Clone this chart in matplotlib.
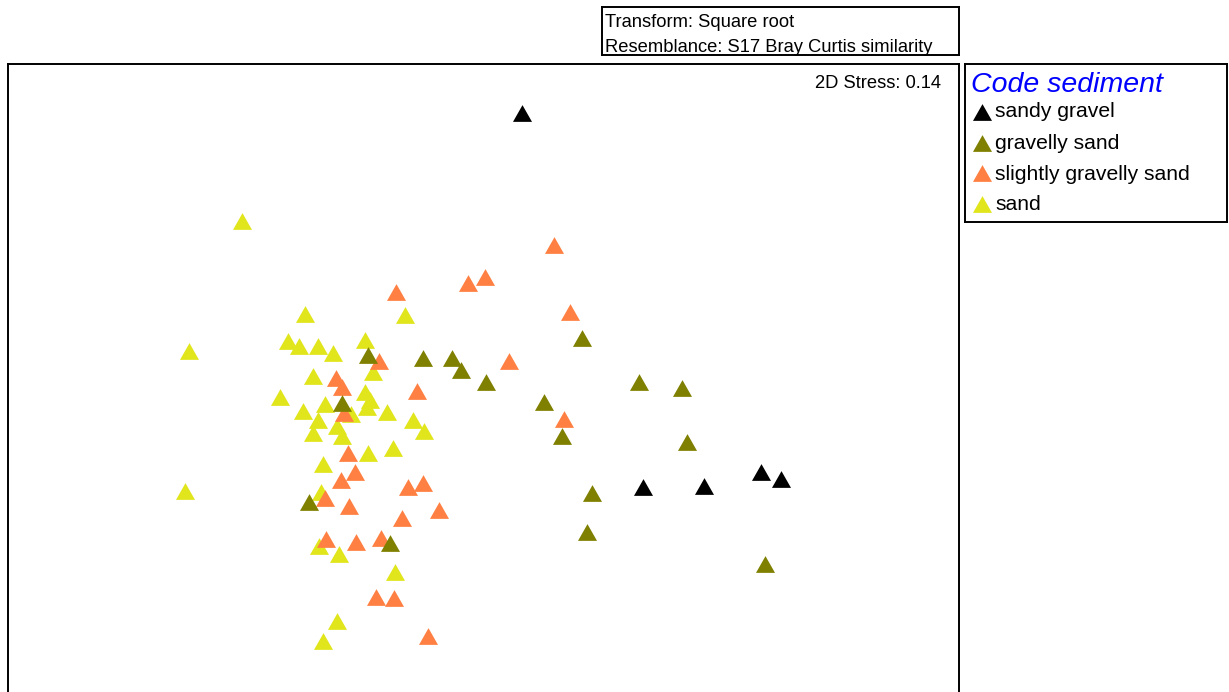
import matplotlib
matplotlib.use("Agg")
import matplotlib.pyplot as plt
from matplotlib.markers import MarkerStyle
from matplotlib.transforms import Affine2D

plt.rcParams['font.family'] = ['Liberation Sans', 'DejaVu Sans']

# NMDS ordination coordinates (MDS1, MDS2) grouped by sediment code
sandy_gravel_x = [0.42, 1.63, 2.24, 2.81, 3.01]
sandy_gravel_y = [2.87, -0.87, -0.86, -0.72, -0.79]

gravelly_sand_x = [1.02, -0.57, -0.28, -0.19, 0.06, 0.64, 0.82, 1.59, 2.02,
                   2.07, 1.12, 1.07, 2.85, -1.12, -1.38, -1.71, -0.90]
gravelly_sand_y = [0.62, 0.42, 0.42, 0.30, 0.18, -0.02, -0.36, 0.18, 0.12,
                   -0.42, -0.93, -1.32, -1.64, 0.45, -0.03, -1.02, -1.43]

slightly_gravelly_sand_x = [0.74, -0.12, 0.05, 0.90, 0.29, 0.84, -0.41, -0.57, -0.84,
                            -1.01, -0.63, -1.44, -1.38, -1.36, -1.32, -1.25, -1.39,
                            -0.72, -1.55, -1.31, -0.78, -1.54, -1.24, -0.99, -1.04,
                            -0.86, -0.52]
slightly_gravelly_sand_y = [1.55, 1.17, 1.23, 0.88, 0.39, -0.19, -1.10, -0.83, 1.08,
                            0.39, 0.09, 0.22, 0.13, -0.13, -0.53, -0.72, -0.80,
                            -0.87, -0.98, -1.06, -1.18, -1.39, -1.42, -1.38, -1.97,
                            -1.98, -2.36]

sand_x = [-2.38, -2.91, -2.95, -1.75, -0.75, -1.92, -1.81, -1.62, -1.47, -1.15,
          -1.07, -1.67, -2.00, -1.15, -1.10, -1.13, -1.55, -1.77, -1.29, -0.93,
          -0.67, -0.56, -1.62, -1.43, -1.67, -1.38, -1.12, -0.87, -1.57, -1.59,
          -1.61, -1.41, -0.85, -1.43, -1.57]
sand_y = [1.79, 0.49, -0.91, 0.86, 0.85, 0.59, 0.54, 0.54, 0.47, 0.60,
          0.28, 0.24, 0.03, 0.08, 0.00, -0.07, -0.04, -0.11, -0.14, -0.12,
          -0.20, -0.31, -0.20, -0.26, -0.33, -0.36, -0.53, -0.48, -0.64, -0.92,
          -1.46, -1.54, -1.72, -2.21, -2.41]

group_labels = ["sandy gravel", "gravelly sand", "slightly gravelly sand", "sand"]
group_colors = ["#000000", "#808000", "#FF8042", "#E1E51C"]

stress_text = "2D Stress: 0.14"
info_lines = ["Transform: Square root", "Resemblance: S17 Bray Curtis similarity"]
legend_title = "Code sediment"

W, H = 1229, 692
fig = plt.figure(figsize=(W / 100, H / 100), dpi=100)
fig.patch.set_facecolor("white")


def fbox(left, top, right, bottom):
    """Figure-fraction rectangle from pixel edges."""
    return [left / W, 1 - bottom / H, (right - left) / W, (bottom - top) / H]


tri = MarkerStyle('^', transform=Affine2D().scale(1.0, 0.88))
msize = 13.7 ** 2

# main ordination panel (its lower edge runs off the canvas)
ax = fig.add_axes(fbox(8, 64, 959, 720))
ax.set_xlim(-4.72, 4.79)
ax.set_ylim(-3.20, 3.36)
ax.set_xticks([])
ax.set_yticks([])
for sp in ax.spines.values():
    sp.set_linewidth(1.4)
    sp.set_color("black")

series = [
    (sand_x, sand_y, 3),
    (slightly_gravelly_sand_x, slightly_gravelly_sand_y, 2),
    (gravelly_sand_x, gravelly_sand_y, 1),
    (sandy_gravel_x, sandy_gravel_y, 0),
]
for xs, ys, gi in series:
    ax.scatter(xs, ys, s=msize, marker=tri, color=group_colors[gi],
               linewidths=0, zorder=3 + (3 - gi))

fig.text(941 / W, 1 - 88 / H, stress_text, ha='right', va='baseline',
         fontsize=13.2, color='black')

# transform / resemblance box
axi = fig.add_axes(fbox(602, 7, 959, 55))
axi.set_xticks([])
axi.set_yticks([])
for sp in axi.spines.values():
    sp.set_linewidth(1.4)
axi.set_xlim(0, 357)
axi.set_ylim(48, 0)
for line, base in zip(info_lines, [27, 52]):
    axi.text(3, base - 7, line, ha='left', va='baseline', fontsize=13.2)

# legend box
axl = fig.add_axes(fbox(965, 64, 1227, 222))
axl.set_xticks([])
axl.set_yticks([])
for sp in axl.spines.values():
    sp.set_linewidth(1.4)
axl.set_xlim(965, 1227)
axl.set_ylim(222, 64)
axl.text(971, 92, legend_title, ha='left', va='baseline', fontsize=20.5,
         style='italic', color='#0000FF')
marker_rows = [112, 143, 173, 204]
text_rows = [117, 149, 180, 210]
for label, color, my, ty in zip(group_labels, group_colors, marker_rows, text_rows):
    axl.scatter([982], [my], s=msize, marker=tri, color=color, linewidths=0,
                clip_on=False)
    axl.text(995, ty, label, ha='left', va='baseline', fontsize=15.2)

fig.savefig("out.png", dpi=100, facecolor="white")
